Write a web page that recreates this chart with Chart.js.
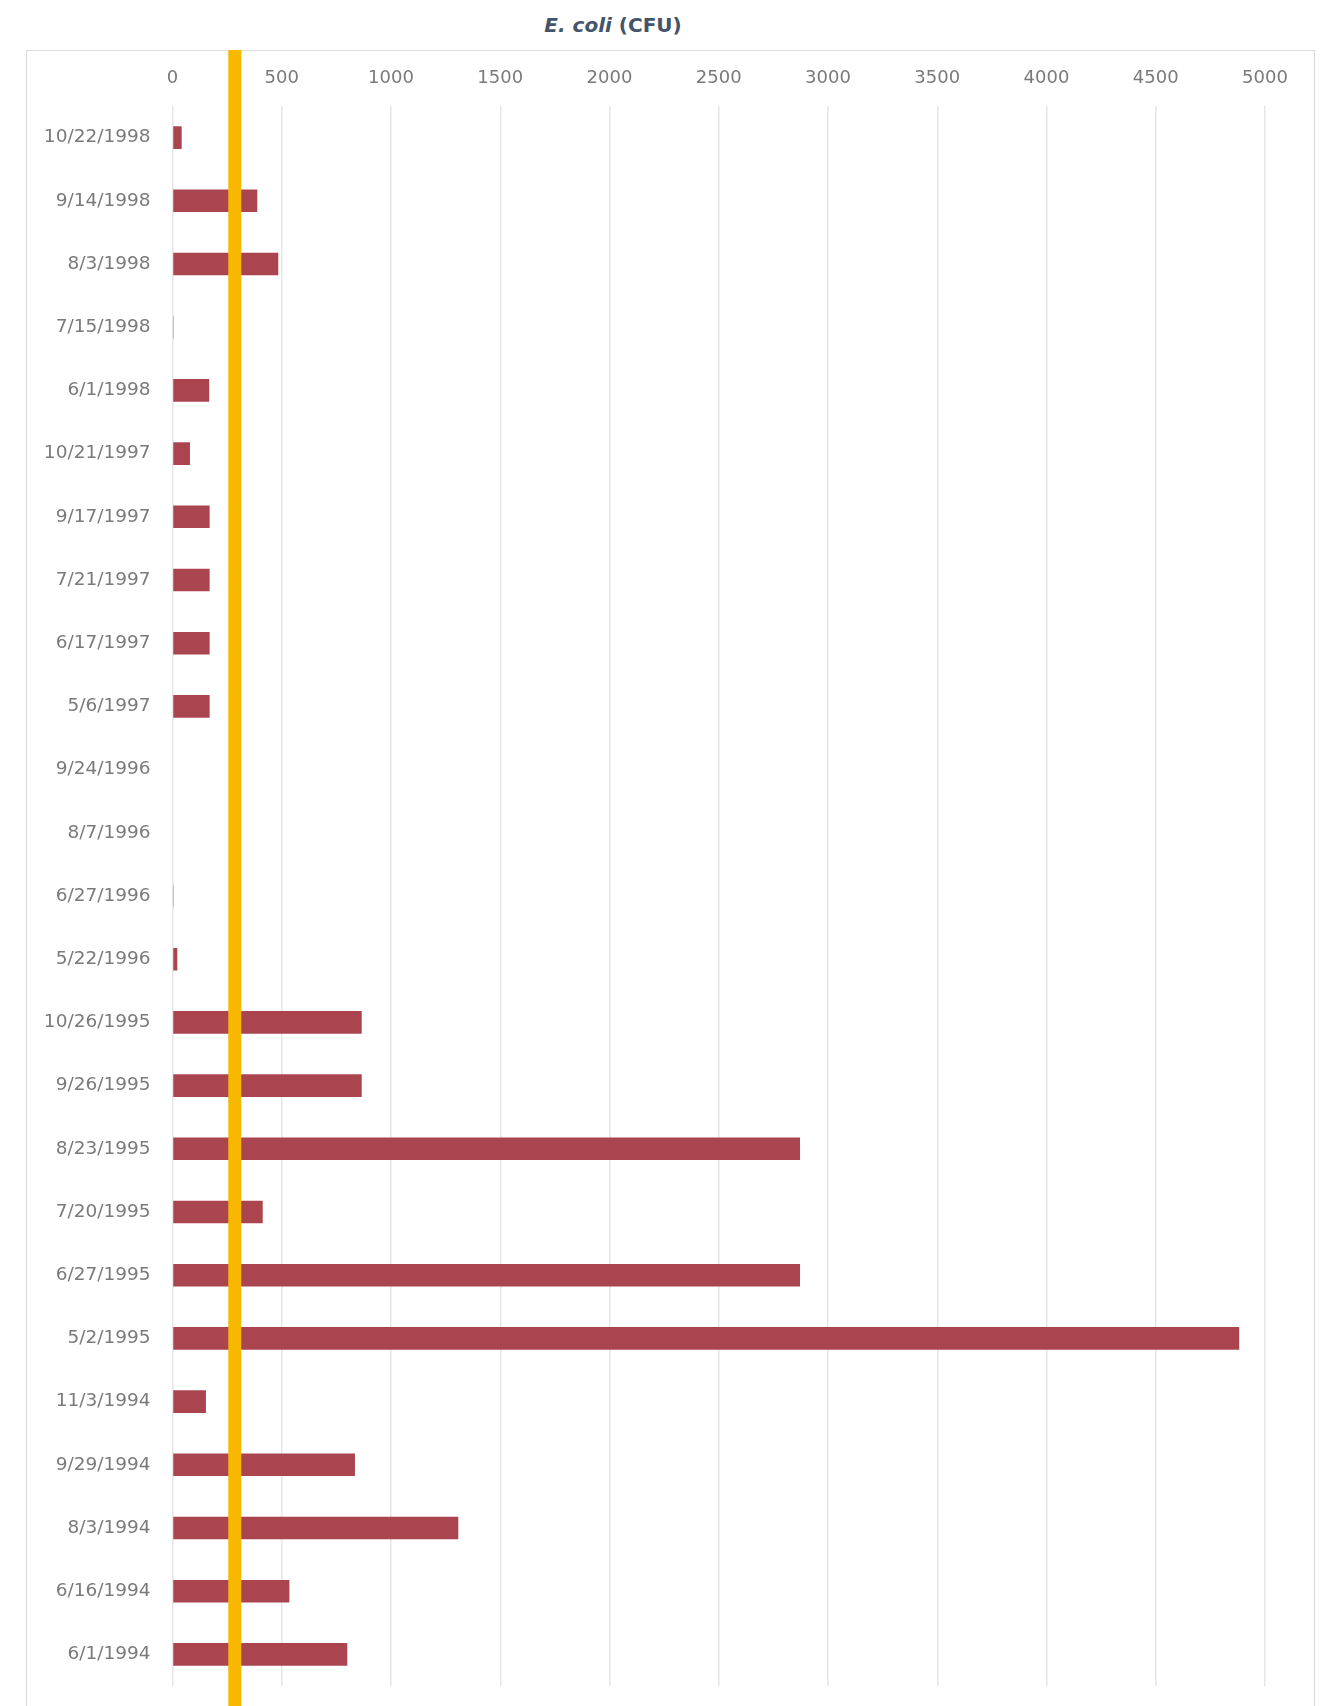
<!DOCTYPE html>
<html>
<head>
<meta charset="utf-8">
<script src="https://cdn.jsdelivr.net/npm/chart.js@4/dist/chart.umd.min.js"></script>
<style>
  html, body { margin: 0; padding: 0; background: #ffffff; }
  body { width: 1324px; height: 1706px; position: relative; overflow: hidden; }
  #frame { position: absolute; left: 26px; top: 50px; width: 1289px; height: 1700px; border: 1px solid #dcdcdc; box-sizing: border-box; }
  #title { position: absolute; top: 10px; left: 413px; width: 400px; text-align: center;
           font-family: "DejaVu Sans", sans-serif; font-weight: bold; font-size: 20px; color: #44546A; line-height: 30px; }
  #wrap { position: absolute; left: 0; top: 0; width: 1324px; height: 1706px; }
  canvas { display: block; }
</style>
</head>
<body>
<div id="frame"></div>
<div id="title"><i>E. coli</i> (CFU)</div>
<div id="wrap"><canvas id="c" width="1324" height="1706"></canvas></div>
<script>
const categories = [
  "10/22/1998", "9/14/1998", "8/3/1998", "7/15/1998", "6/1/1998",
  "10/21/1997", "9/17/1997", "7/21/1997", "6/17/1997", "5/6/1997",
  "9/24/1996", "8/7/1996", "6/27/1996", "5/22/1996",
  "10/26/1995", "9/26/1995", "8/23/1995", "7/20/1995", "6/27/1995", "5/2/1995",
  "11/3/1994", "9/29/1994", "8/3/1994", "6/16/1994", "6/1/1994"
];
const ecoliValues = [
  42, 388, 484, 5, 168,
  80, 170, 170, 170, 170,
  0, 0, 5, 22,
  866, 866, 2872, 413, 2872, 4882,
  153, 835, 1308, 535, 800
];
const xTickMin = 0;
const xTickMax = 5000;
const xTickStep = 500;
const thresholdValue = 285;

const fontFamily = '"DejaVu Sans", sans-serif';

const thresholdPlugin = {
  id: 'threshold',
  afterDatasetsDraw(chart) {
    const xs = chart.scales.x;
    const x = xs.getPixelForValue(thresholdValue);
    const ctx = chart.ctx;
    ctx.save();
    ctx.fillStyle = '#F9B800';
    ctx.fillRect(x - 6.5, 50, 13, chart.height - 50);
    ctx.restore();
  }
};

new Chart(document.getElementById('c'), {
  type: 'bar',
  data: {
    labels: categories,
    datasets: [{
      label: 'E. coli (CFU)',
      data: ecoliValues,
      backgroundColor: '#AA4550',
      borderWidth: 0,
      barPercentage: 0.357,
      categoryPercentage: 1.0
    }]
  },
  options: {
    indexAxis: 'y',
    responsive: false,
    animation: false,
    devicePixelRatio: 1,
    layout: { padding: { top: 0, right: 59, bottom: 20, left: 0 } },
    plugins: { legend: { display: false }, tooltip: { enabled: false }, title: { display: false } },
    scales: {
      x: {
        position: 'top',
        min: xTickMin,
        max: xTickMax,
        ticks: { stepSize: xTickStep, color: '#7a7a7a', font: { family: fontFamily, size: 18 }, padding: 16.5, maxRotation: 0,
                 callback: (v) => String(v) },
        grid: { color: '#e6e6e6', lineWidth: 1.5, drawTicks: false },
        border: { display: false },
        afterFit(scale) { scale.height = 106; scale.paddingLeft = 0; scale.paddingRight = 0; }
      },
      y: {
        ticks: { color: '#7a7a7a', font: { family: fontFamily, size: 18.5 }, padding: 22 },
        grid: { display: false, drawTicks: false },
        border: { display: false },
        afterFit(scale) { scale.width = 172.5; scale.paddingTop = 0; scale.paddingBottom = 0; }
      }
    }
  },
  plugins: [thresholdPlugin]
});
</script>
</body>
</html>
